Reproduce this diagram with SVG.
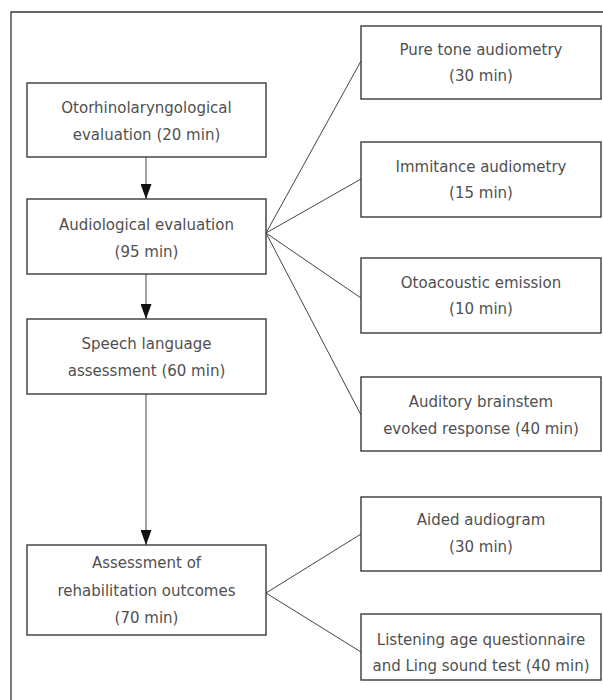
<svg xmlns="http://www.w3.org/2000/svg" width="603" height="700" viewBox="0 0 603 700">
<style>
.box{fill:#fff;stroke:#3a3a3a;stroke-width:1.4}
.t{font-family:"DejaVu Sans","Liberation Sans",sans-serif;font-size:15px;fill:#505050;text-anchor:middle}
.c{stroke:#444;stroke-width:1;fill:none}
</style>
<defs>
<marker id="ah" markerWidth="15" markerHeight="11" refX="15" refY="5.5" viewBox="0 0 15 11" markerUnits="userSpaceOnUse" orient="auto">
<path d="M0,0 L15,5.5 L0,11 Z" fill="#111"/>
</marker>
</defs>
<rect width="603" height="700" fill="#fff"/>
<path d="M11,710 L11,12 L610,12" fill="none" stroke="#333" stroke-width="1.3"/>
<g id="connectors">
<line class="c" x1="146" y1="157" x2="146" y2="199" marker-end="url(#ah)"/>
<line class="c" x1="146" y1="274" x2="146" y2="319" marker-end="url(#ah)"/>
<line class="c" x1="146" y1="394" x2="146" y2="545" marker-end="url(#ah)"/>
<line class="c" x1="266" y1="233" x2="361" y2="61"/>
<line class="c" x1="266" y1="233" x2="361" y2="179"/>
<line class="c" x1="266" y1="233" x2="361" y2="298"/>
<line class="c" x1="266" y1="233" x2="361" y2="415"/>
<line class="c" x1="266" y1="593" x2="361" y2="534"/>
<line class="c" x1="266" y1="593" x2="361" y2="652"/>
</g>
<g id="oto">
<rect class="box" x="27" y="83" width="239" height="74"/>
<text class="t" x="146.5" y="113">Otorhinolaryngological</text>
<text class="t" x="146.5" y="140">evaluation (20 min)</text>
</g>
<g id="audio">
<rect class="box" x="27" y="199" width="239" height="75"/>
<text class="t" x="146.5" y="230">Audiological evaluation</text>
<text class="t" x="146.5" y="257">(95 min)</text>
</g>
<g id="speech">
<rect class="box" x="27" y="319" width="239" height="75"/>
<text class="t" x="146.5" y="349">Speech language</text>
<text class="t" x="146.5" y="376">assessment (60 min)</text>
</g>
<g id="rehab">
<rect class="box" x="27" y="545" width="239" height="90"/>
<text class="t" x="146.5" y="568">Assessment of</text>
<text class="t" x="146.5" y="596">rehabilitation outcomes</text>
<text class="t" x="146.5" y="623">(70 min)</text>
</g>
<g id="pta">
<rect class="box" x="361" y="26" width="240" height="73"/>
<text class="t" x="481" y="55">Pure tone audiometry</text>
<text class="t" x="481" y="81">(30 min)</text>
</g>
<g id="imm">
<rect class="box" x="361" y="142" width="240" height="75"/>
<text class="t" x="481" y="172">Immitance audiometry</text>
<text class="t" x="481" y="198">(15 min)</text>
</g>
<g id="oae">
<rect class="box" x="361" y="258" width="240" height="75"/>
<text class="t" x="481" y="288">Otoacoustic emission</text>
<text class="t" x="481" y="314">(10 min)</text>
</g>
<g id="abr">
<rect class="box" x="361" y="377" width="240" height="74"/>
<text class="t" x="481" y="407">Auditory brainstem</text>
<text class="t" x="481" y="434">evoked response (40 min)</text>
</g>
<g id="aided">
<rect class="box" x="361" y="497" width="240" height="74"/>
<text class="t" x="481" y="525">Aided audiogram</text>
<text class="t" x="481" y="552">(30 min)</text>
</g>
<g id="laq">
<rect class="box" x="361" y="614" width="240" height="66"/>
<text class="t" x="481" y="645">Listening age questionnaire</text>
<text class="t" x="481" y="671">and Ling sound test (40 min)</text>
</g>
</svg>
